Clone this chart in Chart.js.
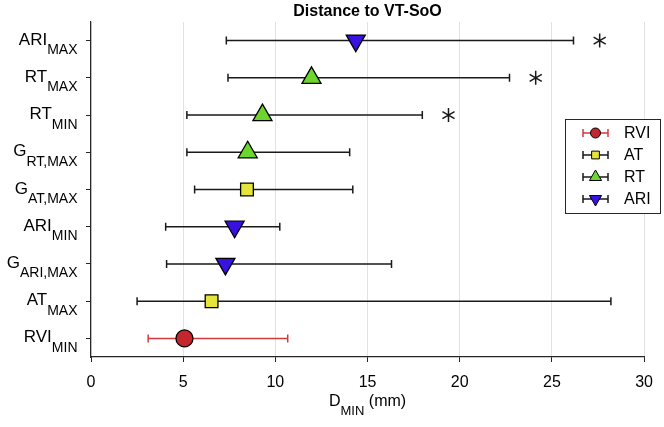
<!DOCTYPE html>
<html>
<head>
<meta charset="utf-8">
<script src="https://cdn.jsdelivr.net/npm/chart.js@4.4.1/dist/chart.umd.min.js"></script>
<style>
  html, body { margin: 0; padding: 0; background: #fff; }
</style>
</head>
<body>
<canvas id="myDistChart" width="664" height="427"></canvas>
<script>
// rows, top to bottom
const labelMain = ["ARI", "RT", "RT", "G", "G", "ARI", "G", "AT", "RVI"];
const labelSub = ["MAX", "MAX", "MIN", "RT,MAX", "AT,MAX", "MIN", "ARI,MAX", "MAX", "MIN"];
const rowGroup = ["ARI", "RT", "RT", "RT", "AT", "ARI", "ARI", "AT", "RVI"];
const centers = [14.36, 11.96, 9.3, 8.5, 8.46, 7.79, 7.29, 6.54, 5.07];
const lows = [7.34, 7.43, 5.2, 5.2, 5.62, 4.05, 4.1, 2.5, 3.1];
const highs = [26.17, 22.7, 17.97, 14.03, 14.2, 10.24, 16.3, 28.2, 10.67];
const significant = [true, true, true, false, false, false, false, false, false];

const groupNames = ["RVI", "AT", "RT", "ARI"];
const xTicks = [0, 5, 10, 15, 20, 25, 30];

const FONT = "'Liberation Sans', Arial, Helvetica, sans-serif";
const AXIS_COLOR = "#262626";

const groupStyle = {
  RVI: { fill: "#c1272d", bar: "#d23a3f", shape: "circle", rot: 0, r: 8.5, lr: 5 },
  AT: { fill: "#e4e43a", bar: "#1a1a1a", shape: "rect", rot: 0, r: 9, lr: 5.5 },
  RT: { fill: "#6cd62c", bar: "#1a1a1a", shape: "triangle", rot: 0, r: 11, lr: 7 },
  ARI: { fill: "#3912e0", bar: "#1a1a1a", shape: "triangle", rot: 180, r: 11, lr: 7 },
};

const datasets = groupNames.map((g) => {
  const st = groupStyle[g];
  const pts = [];
  rowGroup.forEach((rg, i) => {
    if (rg === g) pts.push({ x: centers[i], y: i + 1 });
  });
  return {
    label: g,
    data: pts,
    pointStyle: st.shape,
    pointRotation: st.rot,
    pointRadius: st.r,
    pointHoverRadius: st.r,
    pointBackgroundColor: st.fill,
    pointBorderColor: "#000",
    pointBorderWidth: 1.3,
    showLine: false,
  };
});

function capLine(ctx, x, y, h) {
  ctx.moveTo(x, y - h);
  ctx.lineTo(x, y + h);
}

const errorBars = {
  id: "errorBars",
  beforeDatasetsDraw(chart) {
    const ctx = chart.ctx;
    const xs = chart.scales.x, ys = chart.scales.y;
    ctx.save();
    ctx.lineWidth = 1.5;
    centers.forEach((c, i) => {
      const y = ys.getPixelForValue(i + 1);
      const x0 = xs.getPixelForValue(lows[i]);
      const x1 = xs.getPixelForValue(highs[i]);
      ctx.strokeStyle = groupStyle[rowGroup[i]].bar;
      ctx.beginPath();
      ctx.moveTo(x0, y);
      ctx.lineTo(x1, y);
      capLine(ctx, x0, y, 4);
      capLine(ctx, x1, y, 4);
      ctx.stroke();
      if (significant[i]) {
        // asterisk next to the bar end
        const ax = xs.getPixelForValue(highs[i] + 1.42);
        ctx.strokeStyle = "#1a1a1a";
        ctx.lineWidth = 1.5;
        ctx.beginPath();
        [90, 30, 150].forEach((a) => {
          const r = (a * Math.PI) / 180;
          ctx.moveTo(ax - Math.cos(r) * 7, y - Math.sin(r) * 7);
          ctx.lineTo(ax + Math.cos(r) * 7, y + Math.sin(r) * 7);
        });
        ctx.stroke();
      }
    });
    ctx.restore();
  },
  afterDraw(chart) {
    const ctx = chart.ctx;
    const ys = chart.scales.y;
    const area = chart.chartArea;
    ctx.save();
    ctx.fillStyle = "#000";
    ctx.textBaseline = "alphabetic";

    // y labels with subscripts
    labelMain.forEach((m, i) => {
      const y = ys.getPixelForValue(i + 1);
      const right = area.left - 13.5;
      ctx.font = "14px " + FONT;
      const sw = ctx.measureText(labelSub[i]).width;
      ctx.textAlign = "right";
      ctx.fillText(labelSub[i], right, y + 13.5);
      ctx.font = "17px " + FONT;
      ctx.fillText(m, right - sw, y + 4);
    });

    // x axis title D_MIN (mm)
    ctx.textAlign = "left";
    ctx.font = "16px " + FONT;
    const wD = ctx.measureText("D").width;
    const wMM = ctx.measureText(" (mm)").width;
    ctx.font = "13px " + FONT;
    const wSub = ctx.measureText("MIN").width;
    const cx = (area.left + area.right) / 2;
    let tx = cx - (wD + wSub + wMM) / 2;
    ctx.font = "16px " + FONT;
    ctx.fillText("D", tx, 406);
    ctx.font = "13px " + FONT;
    ctx.fillText("MIN", tx + wD, 415);
    ctx.font = "16px " + FONT;
    ctx.fillText(" (mm)", tx + wD + wSub, 406);

    // title
    ctx.font = "bold 16px " + FONT;
    ctx.textAlign = "center";
    ctx.fillText("Distance to VT-SoO", cx, 16);

    // legend
    const lx = 565, ly = 119, lw = 95, lh = 94;
    ctx.fillStyle = "#fff";
    ctx.fillRect(lx, ly, lw, lh);
    ctx.strokeStyle = AXIS_COLOR;
    ctx.lineWidth = 1;
    ctx.strokeRect(lx + 0.5, ly + 0.5, lw, lh);
    groupNames.forEach((g, k) => {
      const st = groupStyle[g];
      const ey = ly + 14 + k * 22;
      ctx.strokeStyle = st.bar;
      ctx.lineWidth = 1.5;
      ctx.beginPath();
      ctx.moveTo(lx + 18, ey);
      ctx.lineTo(lx + 43, ey);
      capLine(ctx, lx + 18, ey, 4);
      capLine(ctx, lx + 43, ey, 4);
      ctx.stroke();
      ctx.fillStyle = st.fill;
      ctx.strokeStyle = "#000";
      ctx.lineWidth = 1;
      Chart.helpers.drawPoint(ctx, { pointStyle: st.shape, rotation: st.rot, radius: st.lr, borderWidth: 1 }, lx + 30.5, ey);
      ctx.fillStyle = "#000";
      ctx.font = "16px " + FONT;
      ctx.textAlign = "left";
      ctx.textBaseline = "middle";
      ctx.fillText(g, lx + 59, ey + 1);
    });
    ctx.restore();
  },
};

new Chart(document.getElementById("myDistChart"), {
  type: "scatter",
  data: { datasets: datasets },
  options: {
    responsive: false,
    animation: false,
    devicePixelRatio: 1,
    layout: { padding: { top: 22, right: 11, left: 0, bottom: 0 } },
    plugins: { legend: { display: false }, title: { display: false }, tooltip: { enabled: false } },
    scales: {
      x: {
        type: "linear",
        min: 0,
        max: 30,
        afterBuildTicks: (s) => { s.ticks = xTicks.map((v) => ({ value: v })); },
        afterFit: (s) => { s.height = 70; },
        ticks: { color: "#000", font: { family: FONT, size: 16 }, padding: 11 },
        grid: { color: "#e2e2e2", lineWidth: 1, tickLength: 5, tickColor: AXIS_COLOR, tickWidth: 1 },
        border: { color: AXIS_COLOR, width: 1.2 },
      },
      y: {
        type: "linear",
        min: 0.5,
        max: 9.5,
        reverse: true,
        afterBuildTicks: (s) => { s.ticks = labelMain.map((m, i) => ({ value: i + 1 })); },
        afterFit: (s) => { s.width = 91; },
        ticks: { display: false },
        grid: { drawOnChartArea: false, tickLength: 5, tickColor: AXIS_COLOR, tickWidth: 1 },
        border: { color: AXIS_COLOR, width: 1.2 },
      },
    },
  },
  plugins: [errorBars],
});
</script>
</body>
</html>
